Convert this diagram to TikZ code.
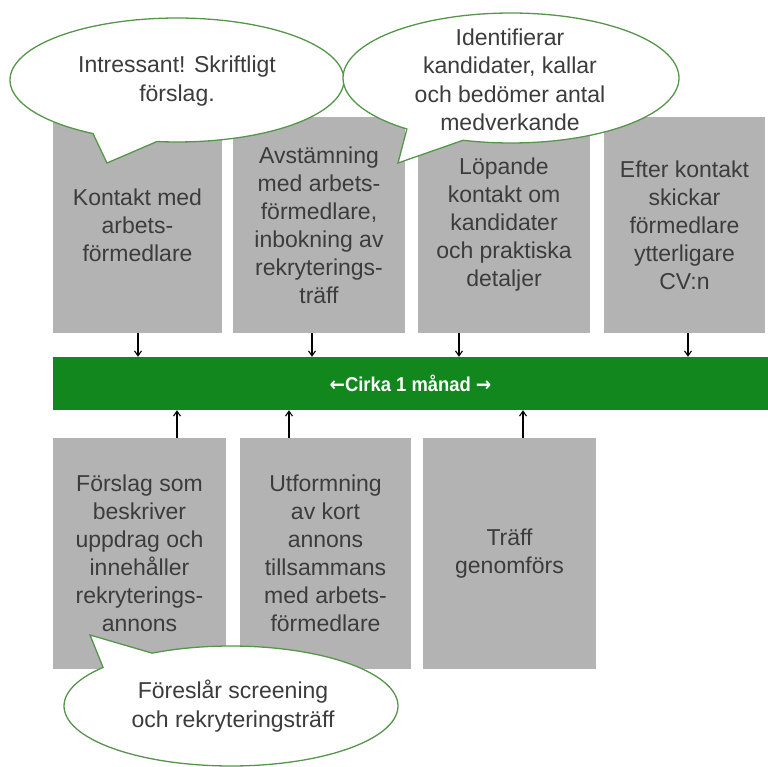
\documentclass[tikz,border=0pt]{standalone}
\usepackage{fontspec}
\setmainfont{Liberation Sans}
\newfontfamily\pilfont{DejaVu Sans}
\usetikzlibrary{arrows.meta}
\definecolor{boxgray}{RGB}{179,179,179}
\definecolor{bargreen}{RGB}{17,135,30}
\definecolor{ringgreen}{RGB}{85,150,75}
\definecolor{txtgray}{RGB}{60,60,60}

\begin{document}
\begin{tikzpicture}
[x=1pt,y=-1pt,
steg/.style={rectangle,fill=boxgray,inner sep=0pt,text=txtgray,align=center,font=\fontsize{23}{28}\selectfont},
pil/.style={-{Straight Barb[length=5pt,width=7pt]},line width=1.1pt,black},
bubbla/.style={fill=white,draw=ringgreen,line width=1.3pt},
prat/.style={text=txtgray,align=center,font=\fontsize{23}{28.5}\selectfont}]

\useasboundingbox (0,0) rectangle (768,767);

% top row
\node at (137.5,225) [steg,minimum width=169,minimum height=216] (kontakt)    {Kontakt med\\arbets-\\förmedlare};
\node at (319,225)   [steg,minimum width=172,minimum height=216] (avstamning) {Avstämning\\med arbets-\\förmedlare,\\inbokning av\\rekryterings-\\träff};
\node at (504,225)   [steg,minimum width=172,minimum height=216] (lopande)    {Löpande\\kontakt om\\kandidater\\och praktiska\\detaljer};
\node at (684.5,225) [steg,minimum width=161,minimum height=216] (efter)      {Efter kontakt\\skickar\\förmedlare\\ytterligare\\CV:n};

% time bar
\node at (410.5,383.5) [rectangle,fill=bargreen,minimum width=715,minimum height=53,inner sep=0pt,
  text=white,font=\fontsize{20}{22}\selectfont\bfseries] (tid)
  {\scalebox{0.92}[1]{{\pilfont\bfseries ←}Cirka 1 månad {\pilfont\bfseries →}}};

% bottom row
\node at (139.5,553.5) [steg,minimum width=173,minimum height=231] (forslag)    {Förslag som\\beskriver\\uppdrag och\\innehåller\\rekryterings-\\annons};
\node at (325.5,553.5) [steg,minimum width=171,minimum height=231] (utformning) {Utformning\\av kort\\annons\\tillsammans\\med arbets-\\förmedlare};
\node at (509.5,553.5) [steg,minimum width=173,minimum height=231] (traff)      {Träff\\genomförs};

\draw [pil] (138,0 |- kontakt.south)    to (138,0 |- tid.north);
\draw [pil] (312,0 |- avstamning.south) to (312,0 |- tid.north);
\draw [pil] (459,0 |- lopande.south)    to (459,0 |- tid.north);
\draw [pil] (688,0 |- efter.south)      to (688,0 |- tid.north);
\draw [pil] (177,0 |- forslag.north)    to (177,0 |- tid.south);
\draw [pil] (289,0 |- utformning.north) to (289,0 |- tid.south);
\draw [pil] (523,0 |- traff.north)      to (523,0 |- tid.south);

% speech bubbles
\path [bubbla] plot [variable=\t,domain=120.2:456.9,samples=120] ({177+167*cos(\t)},{80+62*sin(\t)}) -- (107,163) -- cycle;
\node at (177,81) [prat] (intressant) {Intressant! Skriftligt\\förslag.};

\path [bubbla] plot [variable=\t,domain=128.3:466.6,samples=120] ({511+168*cos(\t)},{78+65*sin(\t)}) -- (398,163) -- cycle;
\node at (510,80) [prat] (identifierar) {Identifierar\\kandidater, kallar\\och bedömer antal\\medverkande};

\path [bubbla] plot [variable=\t,domain=241.8:580,samples=120] ({231+167*cos(\t)},{706+60*sin(\t)}) -- (90,635) -- cycle;
\node at (233,706) [prat] (foreslar) {Föreslår screening\\och rekryteringsträff};
\end{tikzpicture}
\end{document}
